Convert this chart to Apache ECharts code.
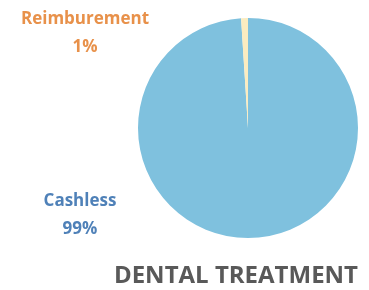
<!DOCTYPE html>
<html>
<head>
<meta charset="utf-8">
<script src="https://cdn.jsdelivr.net/npm/echarts@6/dist/echarts.min.js"></script>
<style>
  html, body { margin: 0; padding: 0; background: #fff; }
  #chart { width: 369px; height: 290px; }
</style>
</head>
<body>
<div id="chart"></div>
<script>
// 数据
const categories = ['Cashless', 'Reimburement'];
const shares = [99, 1];
const sliceColors = ['#7fc1de', '#fbecc0'];
const labelColors = ['#4f81b8', '#e8914a'];
// 标签位置（像素）
const labelSpots = [[80, 215], [85, 33]];

const chart = echarts.init(document.getElementById('chart'));

const option = {
    animation: false,
    title: {
        text: 'DENTAL TREATMENT',
        right: 6,
        bottom: -3,
        textStyle: {
            fontFamily: 'Open Sans',
            fontWeight: 'bold',
            fontSize: 24,
            color: '#595959'
        }
    },
    series: [{
        type: 'pie',
        center: [248, 128],
        radius: 110,
        startAngle: 90,
        clockwise: true,
        percentPrecision: 0,
        itemStyle: { borderWidth: 0 },
        label: {
            show: true,
            formatter: '{b}\n{d}%',
            fontFamily: 'Open Sans',
            fontWeight: 'bold',
            fontSize: 17,
            lineHeight: 28,
            align: 'center',
            overflow: 'none'
        },
        labelLine: { show: false },
        labelLayout: function(params) {
            const p = labelSpots[params.dataIndex];
            return { x: p[0], y: p[1], align: 'center', verticalAlign: 'middle' };
        },
        data: categories.map(function(name, i) {
            return {
                name: name,
                value: shares[i],
                itemStyle: { color: sliceColors[i] },
                label: { color: labelColors[i] }
            };
        })
    }]
};

chart.setOption(option);
</script>
</body>
</html>
